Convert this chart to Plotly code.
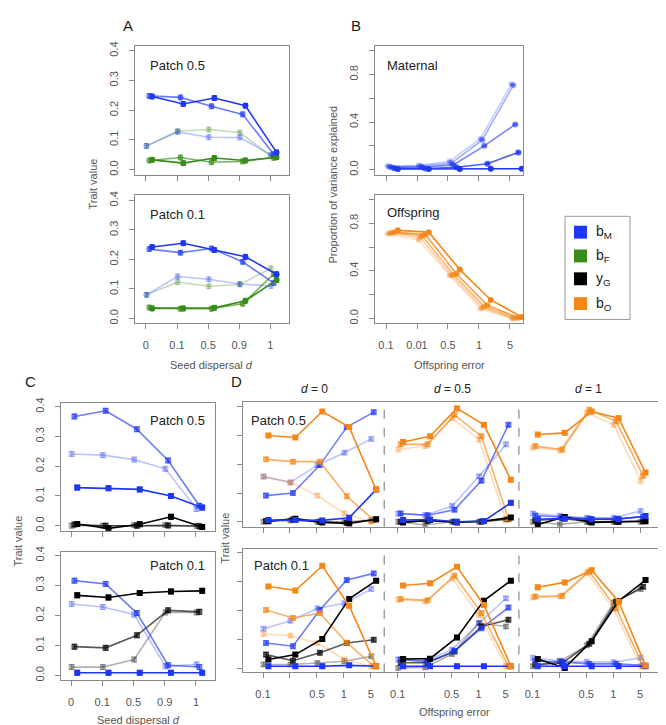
import plotly.graph_objects as go

W, H = 666, 725
FONT = "Liberation Sans, Arial, sans-serif"
AXC = "#8a8a8a"
TICKC = "#555555"

# ---------------- data ----------------
POS = [1, 2, 3, 4, 5]
POS15 = list(range(1, 16))
DISPERSAL_LABELS = ["0", "0.1", "0.5", "0.9", "1"]
ERROR_LABELS = ["0.1", "0.01", "0.5", "1", "5"]
D_LABEL_POS = [1, 3, 4, 5, 6, 8, 9, 10, 11, 13, 14, 15]
D_LABELS = ["0.1", "0.5", "1", "5"] * 3
D_UNLABELLED_POS = [2, 7, 12]
D_COLUMN_TITLES = ["<i>d</i> = 0", "<i>d</i> = 0.5", "<i>d</i> = 1"]
LEGEND_LABELS = ["b<sub>M</sub>", "b<sub>F</sub>", "y<sub>G</sub>", "b<sub>O</sub>"]

# Panel A, Patch 0.5
A05_bM_light = [0.080, 0.127, 0.109, 0.108, 0.050]
A05_bM_mid = [0.248, 0.243, 0.213, 0.186, 0.052]
A05_bM_dark = [0.246, 0.221, 0.241, 0.215, 0.058]
A05_bF_light = [0.080, 0.130, 0.135, 0.125, 0.045]
A05_bF_mid = [0.031, 0.041, 0.025, 0.028, 0.040]
A05_bF_dark = [0.033, 0.022, 0.039, 0.031, 0.042]
# Panel A, Patch 0.1
A01_bM_light = [0.080, 0.142, 0.133, 0.117, 0.110]
A01_bM_mid = [0.235, 0.223, 0.237, 0.192, 0.120]
A01_bM_dark = [0.242, 0.255, 0.232, 0.209, 0.150]
A01_bF_light = [0.080, 0.123, 0.109, 0.115, 0.170]
A01_bF_mid = [0.037, 0.033, 0.033, 0.050, 0.150]
A01_bF_dark = [0.034, 0.034, 0.036, 0.060, 0.130]

# Panel B, proportion of variance explained
B_mat_1 = [0.030, 0.035, 0.070, 0.260, 0.720]
B_mat_2 = [0.025, 0.030, 0.055, 0.250, 0.710]
B_mat_3 = [0.020, 0.020, 0.040, 0.200, 0.380]
B_mat_4 = [0.012, 0.010, 0.020, 0.050, 0.145]
B_mat_5 = [0.005, 0.005, 0.005, 0.008, 0.008]
B_off_1 = [0.710, 0.660, 0.360, 0.080, 0.000]
B_off_2 = [0.715, 0.680, 0.360, 0.090, 0.000]
B_off_3 = [0.720, 0.695, 0.370, 0.100, 0.003]
B_off_4 = [0.725, 0.705, 0.375, 0.110, 0.005]
B_off_5 = [0.740, 0.725, 0.410, 0.155, 0.012]

# Panel C, Patch 0.5
C05_bM_light = [0.241, 0.237, 0.222, 0.191, 0.056]
C05_bM_mid = [0.367, 0.386, 0.324, 0.219, 0.067]
C05_bM_dark = [0.128, 0.126, 0.122, 0.100, 0.061]
C05_yG_light = [0.000, 0.000, 0.002, 0.002, 0.000]
C05_yG_mid = [0.004, 0.000, 0.000, 0.001, -0.002]
C05_yG_dark = [0.006, -0.009, 0.005, 0.030, -0.004]
# Panel C, Patch 0.1
C01_bM_light = [0.238, 0.228, 0.203, 0.031, 0.037]
C01_bM_mid = [0.316, 0.305, 0.208, 0.034, 0.028]
C01_bM_dark = [0.009, 0.009, 0.009, 0.009, 0.009]
C01_yG_light = [0.028, 0.028, 0.053, 0.210, 0.210]
C01_yG_mid = [0.096, 0.092, 0.134, 0.217, 0.212]
C01_yG_dark = [0.267, 0.260, 0.275, 0.280, 0.282]

# Panel D, Patch 0.5 (d = 0 | d = 0.5 | d = 1)
D05_bO_light = [0.157, 0.137, 0.091, 0.029, 0.000, 0.251, 0.263, 0.360, 0.286, 0.006, 0.257, 0.249, 0.379, 0.337, 0.143]
D05_bO_mid = [0.217, 0.209, 0.209, 0.089, 0.006, 0.269, 0.269, 0.371, 0.297, 0.011, 0.263, 0.251, 0.389, 0.349, 0.160]
D05_bO_dark = [0.300, 0.293, 0.383, 0.329, 0.112, 0.277, 0.297, 0.394, 0.337, 0.146, 0.303, 0.309, 0.383, 0.360, 0.171]
D05_bM_light = [0.157, 0.137, 0.197, 0.240, 0.288, 0.029, 0.023, 0.055, 0.158, 0.269, 0.029, 0.021, 0.014, 0.014, 0.038]
D05_bM_mid = [0.091, 0.100, 0.197, 0.329, 0.381, 0.029, 0.023, 0.042, 0.143, 0.337, 0.022, 0.016, 0.011, 0.011, 0.017]
D05_bM_dark = [0.006, 0.006, 0.005, 0.014, 0.112, 0.006, 0.008, 0.000, 0.003, 0.066, 0.009, 0.011, 0.009, 0.009, 0.020]
D05_yG_light = [0.000, 0.005, 0.000, 0.000, 0.005, 0.000, -0.011, 0.000, 0.000, 0.008, 0.000, -0.009, 0.000, 0.000, 0.000]
D05_yG_mid = [0.003, 0.008, 0.000, -0.004, 0.007, 0.000, 0.003, 0.000, 0.000, 0.010, 0.005, 0.012, 0.000, 0.000, 0.002]
D05_yG_dark = [0.002, 0.011, -0.002, -0.006, 0.009, -0.002, 0.006, -0.002, 0.003, 0.015, -0.009, 0.017, -0.002, 0.000, 0.002]
# Panel D, Patch 0.1
D01_bO_light = [0.119, 0.113, 0.088, 0.031, 0.008, 0.237, 0.231, 0.311, 0.185, 0.008, 0.245, 0.248, 0.330, 0.205, 0.008]
D01_bO_mid = [0.202, 0.174, 0.191, 0.089, 0.008, 0.240, 0.235, 0.320, 0.191, 0.008, 0.248, 0.251, 0.334, 0.208, 0.008]
D01_bO_dark = [0.283, 0.269, 0.354, 0.216, 0.008, 0.286, 0.294, 0.351, 0.219, 0.008, 0.280, 0.297, 0.339, 0.231, 0.010]
D01_bM_light = [0.137, 0.165, 0.208, 0.225, 0.274, 0.031, 0.027, 0.065, 0.157, 0.242, 0.037, 0.027, 0.023, 0.022, 0.037]
D01_bM_mid = [0.088, 0.077, 0.202, 0.305, 0.328, 0.031, 0.023, 0.060, 0.139, 0.210, 0.025, 0.023, 0.016, 0.016, 0.011]
D01_bM_dark = [0.008, 0.008, 0.008, 0.011, 0.008, 0.008, 0.008, 0.008, 0.008, 0.008, 0.008, 0.008, 0.008, 0.008, 0.008]
D01_yG_light = [0.014, 0.014, 0.019, 0.025, 0.042, 0.002, 0.004, 0.050, 0.157, 0.145, 0.008, 0.025, 0.080, 0.228, 0.274]
D01_yG_mid = [0.048, 0.027, 0.054, 0.088, 0.099, 0.020, 0.020, 0.059, 0.145, 0.168, 0.014, 0.019, 0.085, 0.231, 0.282]
D01_yG_dark = [0.031, 0.048, 0.102, 0.240, 0.303, 0.033, 0.034, 0.107, 0.234, 0.303, 0.033, 0.002, 0.094, 0.233, 0.305]

# error bar half-widths per panel
ERR_A = 0.008
ERR_B = 0.006
ERR_C = 0.008
ERR_D = 0.007

# ---------------- style ----------------
BLUE = (30, 55, 245)
GREEN = (55, 140, 25)
BLACK = (0, 0, 0)
ORANGE = (245, 135, 25)
SHADE3 = {"light": 0.3, "mid": 0.65, "dark": 1.0}
OFF3 = {"light": 0.02, "mid": 0.11, "dark": 0.2}
SHADE5 = [0.25, 0.4, 0.6, 0.8, 1.0]
OFF5 = [0.05, 0.11, 0.17, 0.27, 0.38]


def rgba(c, a):
    return "rgba(%d,%d,%d,%.2f)" % (c[0], c[1], c[2], a)


def xdom(l, r):
    return [l / W, r / W]


def ydom(t, b):
    return [1 - b / H, 1 - t / H]


fig = go.Figure()


def add_series(ax, xs, ys, color, alpha, off, err, symbol):
    col = rgba(color, alpha)
    fig.add_trace(go.Scatter(
        x=[x + off for x in xs], y=ys, mode="lines+markers",
        line=dict(color=col, width=1.6),
        marker=dict(color=col, size=6, symbol=symbol),
        error_y=dict(type="constant", value=err, color=col, thickness=1, width=2.5),
        xaxis="x" + ("" if ax == 1 else str(ax)),
        yaxis="y" + ("" if ax == 1 else str(ax)),
        showlegend=False, hoverinfo="skip"))


def set_axes(i, xpx, ypx, xrange, yrange, xtv, xtt, ytv, ytt,
             xminor=None, yminor=None):
    sx = "xaxis" if i == 1 else "xaxis%d" % i
    sy = "yaxis" if i == 1 else "yaxis%d" % i
    anc_y = "y" if i == 1 else "y%d" % i
    anc_x = "x" if i == 1 else "x%d" % i
    common = dict(showline=True, mirror=True, linecolor=AXC, linewidth=1,
                  ticks="outside", ticklen=5, tickcolor=AXC, tickwidth=1,
                  showgrid=False, zeroline=False,
                  tickfont=dict(family=FONT, size=11, color=TICKC))
    xa = dict(domain=xdom(*xpx), range=xrange, anchor=anc_y,
              tickmode="array", tickvals=xtv, ticklabelstandoff=6, **common)
    if xtt is None:
        xa["showticklabels"] = False
    else:
        xa["ticktext"] = xtt
    if xminor:
        xa["minor"] = dict(tickmode="array", tickvals=xminor, ticks="outside",
                           ticklen=5, tickcolor=AXC, tickwidth=1, showgrid=False)
    ya = dict(domain=ydom(*ypx), range=yrange, anchor=anc_x,
              tickmode="array", tickvals=ytv, tickangle=-90,
              ticklabelstandoff=7, **common)
    if ytt is None:
        ya["showticklabels"] = False
    else:
        ya["ticktext"] = ytt
    if yminor:
        ya["minor"] = dict(tickmode="array", tickvals=yminor, ticks="outside",
                           ticklen=5, tickcolor=AXC, tickwidth=1, showgrid=False)
    fig.update_layout(**{sx: xa, sy: ya})


YT4 = [0, 0.1, 0.2, 0.3, 0.4]
YT4L = ["0.0", "0.1", "0.2", "0.3", "0.4"]
BT = [0, 0.4, 0.8]
BTL = ["0.0", "0.4", "0.8"]
BT_MINOR = [0.2, 0.6, 1.0]

# axes
set_axes(1, (127, 281), (33, 163), [0.65, 5.6], [-0.0167, 0.4167], POS, None, YT4, YT4L)
set_axes(2, (127, 281), (184, 313), [0.65, 5.6], [-0.0168, 0.4168], POS, DISPERSAL_LABELS, YT4, YT4L)
set_axes(3, (367, 515), (33, 163), [0.645, 5.42], [-0.042, 1.042], POS, None, BT, BTL, yminor=BT_MINOR)
set_axes(4, (367, 515), (184, 313), [0.645, 5.42], [-0.042, 1.033], POS, ERROR_LABELS, BT, BTL, yminor=BT_MINOR)
set_axes(5, (53, 207), (393, 522), [0.68, 5.61], [-0.0167, 0.413], POS, None, YT4, YT4L)
set_axes(6, (53, 207), (543, 673), [0.68, 5.61], [-0.0165, 0.413], POS, DISPERSAL_LABELS, YT4, YT4L)
set_axes(7, (235, 658), (392, 518), [0.257, 15.96], [-0.017, 0.417], POS15, None, YT4, None)
set_axes(8, (235, 658), (540, 665), [0.257, 15.96], [-0.0137, 0.4137], D_LABEL_POS, D_LABELS, YT4, None,
         xminor=D_UNLABELLED_POS)

# ---------------- traces ----------------
for ax, sets in [
    (1, [(A05_bF_light, GREEN, "light"), (A05_bM_light, BLUE, "light"),
         (A05_bF_mid, GREEN, "mid"), (A05_bM_mid, BLUE, "mid"),
         (A05_bF_dark, GREEN, "dark"), (A05_bM_dark, BLUE, "dark")]),
    (2, [(A01_bF_light, GREEN, "light"), (A01_bM_light, BLUE, "light"),
         (A01_bF_mid, GREEN, "mid"), (A01_bM_mid, BLUE, "mid"),
         (A01_bF_dark, GREEN, "dark"), (A01_bM_dark, BLUE, "dark")]),
]:
    for ys, col, sh in sets:
        add_series(ax, POS, ys, col, SHADE3[sh], OFF3[sh], ERR_A, "circle")

for k, ys in enumerate([B_mat_1, B_mat_2, B_mat_3, B_mat_4, B_mat_5]):
    add_series(3, POS, ys, BLUE, SHADE5[k], OFF5[k], ERR_B, "circle")
for k, ys in enumerate([B_off_1, B_off_2, B_off_3, B_off_4, B_off_5]):
    add_series(4, POS, ys, ORANGE, SHADE5[k], OFF5[k], ERR_B, "circle")

for ax, sets in [
    (5, [(C05_yG_light, BLACK, "light"), (C05_bM_light, BLUE, "light"),
         (C05_yG_mid, BLACK, "mid"), (C05_bM_mid, BLUE, "mid"),
         (C05_yG_dark, BLACK, "dark"), (C05_bM_dark, BLUE, "dark")]),
    (6, [(C01_yG_light, BLACK, "light"), (C01_bM_light, BLUE, "light"),
         (C01_yG_mid, BLACK, "mid"), (C01_bM_mid, BLUE, "mid"),
         (C01_yG_dark, BLACK, "dark"), (C01_bM_dark, BLUE, "dark")]),
]:
    for ys, col, sh in sets:
        add_series(ax, POS, ys, col, SHADE3[sh], OFF3[sh], ERR_C, "square")

for ax, sets in [
    (7, [(D05_yG_light, BLACK, "light"), (D05_bM_light, BLUE, "light"), (D05_bO_light, ORANGE, "light"),
         (D05_yG_mid, BLACK, "mid"), (D05_bM_mid, BLUE, "mid"), (D05_bO_mid, ORANGE, "mid"),
         (D05_yG_dark, BLACK, "dark"), (D05_bM_dark, BLUE, "dark"), (D05_bO_dark, ORANGE, "dark")]),
    (8, [(D01_yG_light, BLACK, "light"), (D01_bM_light, BLUE, "light"), (D01_bO_light, ORANGE, "light"),
         (D01_yG_mid, BLACK, "mid"), (D01_bM_mid, BLUE, "mid"), (D01_bO_mid, ORANGE, "mid"),
         (D01_yG_dark, BLACK, "dark"), (D01_bM_dark, BLUE, "dark"), (D01_bO_dark, ORANGE, "dark")]),
]:
    for ys, col, sh in sets:
        # each d-column is its own line
        for c in range(3):
            xs = POS15[c * 5:(c + 1) * 5]
            add_series(ax, xs, ys[c * 5:(c + 1) * 5], col, SHADE3[sh], OFF3[sh], ERR_D, "square")

# ---------------- shapes ----------------
shapes = []
for ax in (7, 8):
    for xv in (5.5, 10.5):
        shapes.append(dict(type="line", xref="x%d" % ax, yref="y%d domain" % ax,
                           x0=xv, x1=xv, y0=0, y1=1,
                           line=dict(color="#8a8a8a", width=1.2, dash="dash")))

# legend box
shapes.append(dict(type="rect", xref="paper", yref="paper",
                   x0=557 / W, x1=622 / W, y0=1 - 309 / H, y1=1 - 205 / H,
                   line=dict(color="#999999", width=1), fillcolor="white"))
LEG_COLORS = [BLUE, GREEN, BLACK, ORANGE]
LEG_Y = [221, 245, 268, 293]
annotations = []
for col, yc, lab in zip(LEG_COLORS, LEG_Y, LEGEND_LABELS):
    shapes.append(dict(type="rect", xref="paper", yref="paper",
                       x0=566 / W, x1=579 / W, y0=1 - (yc + 6.5) / H, y1=1 - (yc - 6.5) / H,
                       line=dict(width=0), fillcolor=rgba(col, 1)))
    annotations.append(dict(xref="paper", yref="paper", x=586 / W, y=1 - yc / H,
                            text=lab, showarrow=False, xanchor="left", yanchor="middle",
                            font=dict(family=FONT, size=14, color="#222")))


def ann(x, y, text, size=11, color=TICKC, xanchor="center", angle=0):
    annotations.append(dict(xref="paper", yref="paper", x=x / W, y=1 - y / H, text=text,
                            showarrow=False, xanchor=xanchor, yanchor="middle",
                            textangle=angle, font=dict(family=FONT, size=size, color=color)))


# panel letters
ann(120, 13, "A", size=15, color="#222")
ann(348, 13, "B", size=15, color="#222")
ann(22, 372, "C", size=15, color="#222")
ann(228, 372, "D", size=15, color="#222")

# in-panel labels
ann(140, 53, "Patch 0.5", size=13, color="#222", xanchor="left")
ann(140, 203, "Patch 0.1", size=13, color="#222", xanchor="left")
ann(377, 53, "Maternal", size=13, color="#222", xanchor="left")
ann(377, 201, "Offspring", size=13, color="#222", xanchor="left")
ann(199, 411, "Patch 0.5", size=13, color="#222", xanchor="right")
ann(199, 557, "Patch 0.1", size=13, color="#222", xanchor="right")
ann(241, 411, "Patch 0.5", size=13, color="#222", xanchor="left")
ann(244, 557, "Patch 0.1", size=13, color="#222", xanchor="left")

# column titles in D
for xc, t in zip([306, 444, 580], D_COLUMN_TITLES):
    ann(xc, 379, t, size=12, color="#222")

# axis titles
ann(203, 355, "Seed dispersal <i>d</i>", size=11)
ann(441, 355, "Offspring error", size=11)
ann(130, 713, "Seed dispersal <i>d</i>", size=11)
ann(446, 705, "Offspring error", size=11)
ann(85, 173, "Trait value", size=11, angle=-90)
ann(325, 173, "Proportion of variance explained", size=11, angle=-90)
ann(10, 533, "Trait value", size=11, angle=-90)
ann(217, 530, "Trait value", size=11, angle=-90)

fig.update_layout(width=W, height=H, margin=dict(l=0, r=0, t=0, b=0),
                  paper_bgcolor="white", plot_bgcolor="white",
                  shapes=shapes, annotations=annotations,
                  font=dict(family=FONT))

fig.write_html("out.html")
